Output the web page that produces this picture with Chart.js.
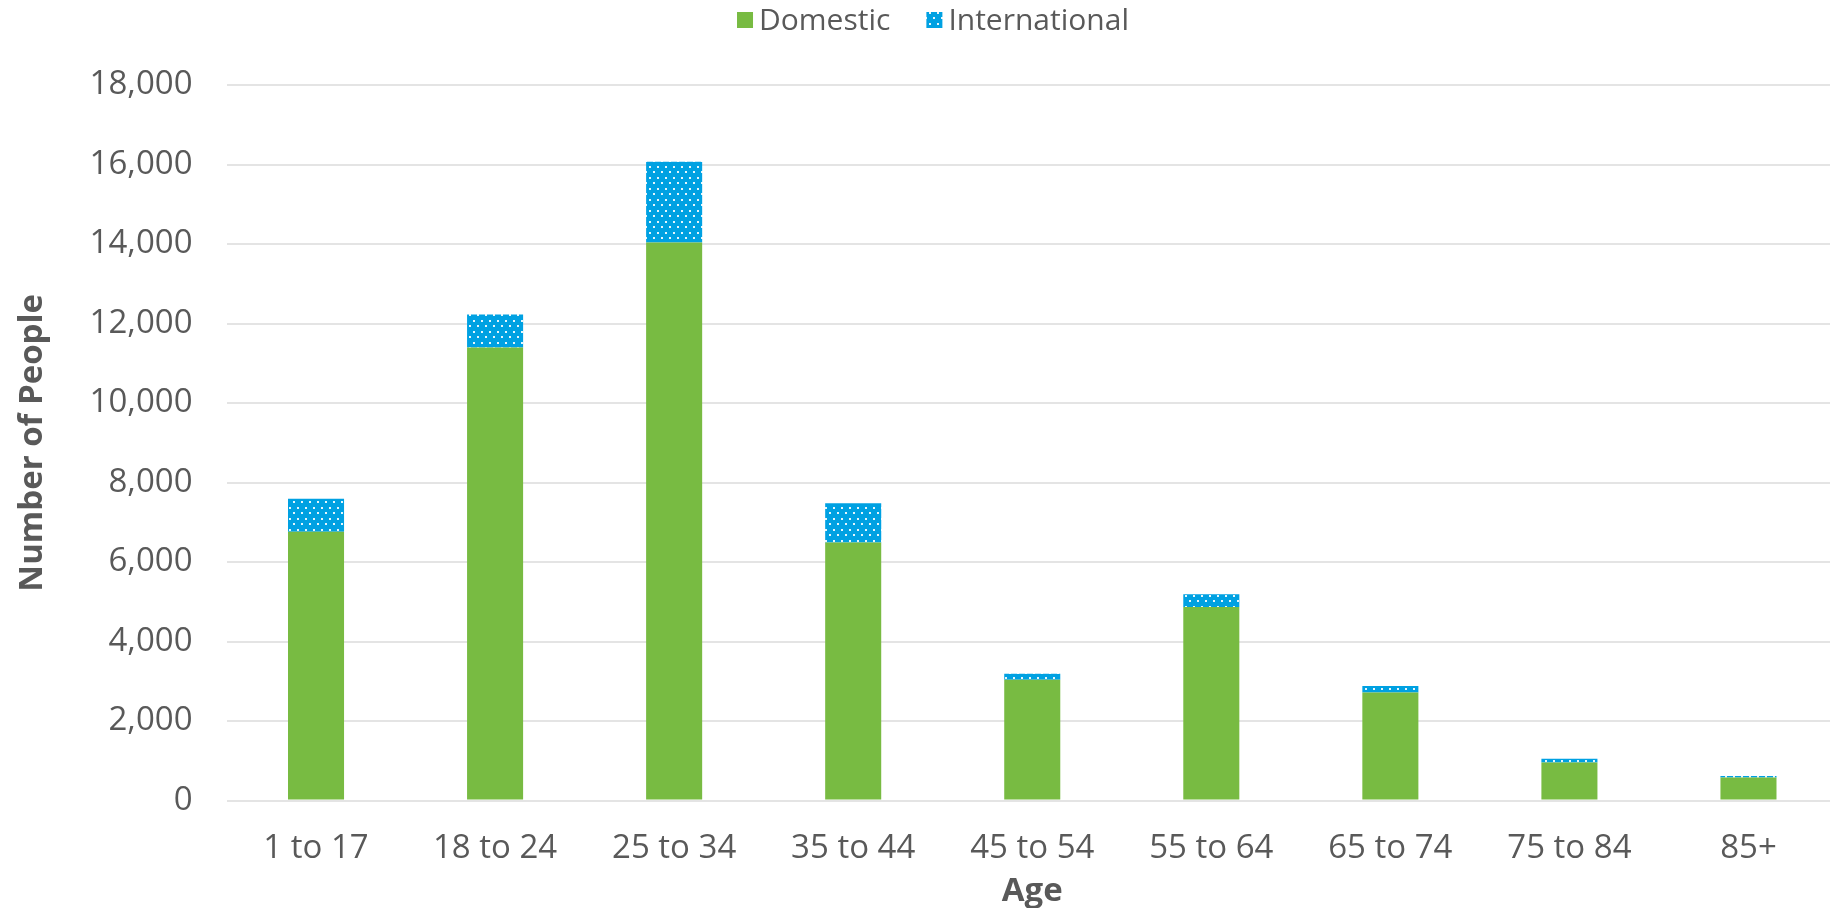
<!DOCTYPE html>
<html>
<head>
<meta charset="utf-8">
<script src="https://cdn.jsdelivr.net/npm/chart.js@4.4.1/dist/chart.umd.min.js"></script>
<style>
  html, body { margin: 0; padding: 0; background: #ffffff; overflow: hidden; }
  #wrap { position: relative; width: 1866px; height: 908px; }
</style>
</head>
<body>
<div id="wrap"><canvas id="chart"></canvas></div>
<script>
// ---- data ----
const categories = ["1 to 17", "18 to 24", "25 to 34", "35 to 44", "45 to 54", "55 to 64", "65 to 74", "75 to 84", "85+"];
const domestic = [6760, 11400, 14040, 6490, 3040, 4870, 2720, 960, 580];
const international = [830, 830, 2030, 990, 150, 320, 160, 90, 40];
const seriesNames = ["Domestic", "International"];
const yTicks = { min: 0, max: 18000, step: 2000 };
const xTitle = "Age";
const yTitle = "Number of People";

// ---- styles ----
const GREEN = "#78BB42";
const BLUE = "#00A1E2";
const TEXT = "#595959";
const GRID = "#E4E4E4";
const FONT = '"Open Sans", "Noto Sans", sans-serif';

function dotPattern() {
  const c = document.createElement("canvas");
  c.width = 8; c.height = 11;
  const g = c.getContext("2d");
  g.fillStyle = BLUE;
  g.fillRect(0, 0, 8, 11);
  g.fillStyle = "rgba(255,255,255,0.9)";
  g.fillRect(1, 1, 2, 2);
  g.fillRect(5, 6, 2, 2);
  return g.createPattern(c, "repeat");
}
const bluePattern = dotPattern();

const legendPlugin = {
  id: "topLegend",
  afterDraw(chart) {
    const ctx = chart.ctx;
    const items = chart.data.datasets.map(d => ({ text: d.label, fill: d.backgroundColor }));
    ctx.save();
    ctx.font = "30px " + FONT;
    const box = 16, gapText = 6, gapItem = 36;
    const widths = items.map(it => box + gapText + ctx.measureText(it.text).width);
    const total = widths.reduce((a, b) => a + b, 0) + gapItem * (items.length - 1);
    let x = chart.width / 2 - total / 2;
    const y = 20;
    ctx.textBaseline = "middle";
    ctx.textAlign = "left";
    items.forEach((it, i) => {
      ctx.fillStyle = it.fill;
      ctx.fillRect(x, y - box / 2, box, box);
      ctx.fillStyle = TEXT;
      ctx.fillText(it.text, x + box + gapText, y + 1);
      x += widths[i] + gapItem;
    });
    ctx.restore();
  }
};

new Chart(document.getElementById("chart"), {
  type: "bar",
  data: {
    labels: categories,
    datasets: [
      { label: seriesNames[0], data: domestic, backgroundColor: GREEN, borderWidth: 0 },
      { label: seriesNames[1], data: international, backgroundColor: bluePattern, borderWidth: 0 }
    ]
  },
  plugins: [legendPlugin],
  options: {
    responsive: true,
    maintainAspectRatio: false,
    animation: false,
    layout: { padding: { top: 85, right: 28, bottom: 0, left: 0 } },
    plugins: {
      legend: { display: false },
      tooltip: { enabled: false }
    },
    datasets: { bar: { barPercentage: 0.313, categoryPercentage: 1.0 } },
    scales: {
      x: {
        stacked: true,
        grid: { display: false, drawTicks: false },
        border: { display: false },
        ticks: { color: TEXT, font: { family: FONT, size: 33 }, padding: 28, maxRotation: 0, autoSkip: false },
        title: { display: true, text: xTitle, color: TEXT, font: { family: FONT, size: 33, weight: "bold", lineHeight: 1 }, padding: 0 },
        afterFit(scale) { scale.height = 107.4; }
      },
      y: {
        stacked: true,
        min: yTicks.min,
        max: yTicks.max,
        grid: { color: GRID, lineWidth: 2, drawTicks: false },
        border: { display: false },
        ticks: { stepSize: yTicks.step, color: TEXT, font: { family: FONT, size: 33 }, padding: 34 },
        title: { display: true, text: yTitle, color: TEXT, font: { family: FONT, size: 33, weight: "bold", lineHeight: 1.2 }, padding: { top: 13, bottom: 0 } },
        afterFit(scale) { scale.width = 226.5; }
      }
    }
  }
});
</script>
</body>
</html>
